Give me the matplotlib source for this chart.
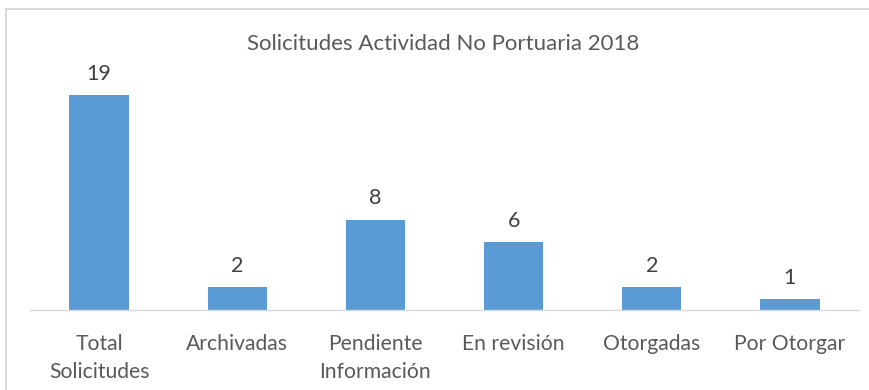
import matplotlib
matplotlib.use("Agg")
import matplotlib.pyplot as plt
from matplotlib.lines import Line2D

categories = ["Total\nSolicitudes", "Archivadas", "Pendiente\nInformación",
              "En revisión", "Otorgadas", "Por Otorgar"]
values = [19, 2, 8, 6, 2, 1]
title = "Solicitudes Actividad No Portuaria 2018"

bar_color = "#5B9BD5"
text_color = "#595959"
plt.rcParams["font.family"] = ["Lato", "DejaVu Sans"]

fig = plt.figure(figsize=(8.7, 3.9), dpi=100)
ax = fig.add_axes([30 / 870, 80 / 390, 829 / 870, 226 / 390])

x = list(range(len(categories)))
bars = ax.bar(x, values, width=0.43, color=bar_color, zorder=2)
ax.set_xlim(-0.5, len(categories) - 0.5)
ax.set_ylim(0, 20)

for rect, v in zip(bars, values):
    ax.annotate(str(v), (rect.get_x() + rect.get_width() / 2, v),
                xytext=(0, 8), textcoords="offset points",
                ha="center", va="bottom", fontsize=15.5, color="#404040")

ax.set_xticks(x)
ax.set_xticklabels(categories, fontsize=15.2, color=text_color, linespacing=1.5)
ax.tick_params(axis="x", length=0, pad=17)
ax.set_yticks([])
for side in ("top", "right", "left"):
    ax.spines[side].set_visible(False)
ax.spines["bottom"].set_color("#D9D9D9")
ax.spines["bottom"].set_linewidth(1)

fig.text(443 / 870, 1 - 44 / 390, title, ha="center", va="center",
         fontsize=16, color=text_color)

# chart frame (top and left edges)
fig.add_artist(Line2D([6.5 / 870, 1], [1 - 8.5 / 390, 1 - 8.5 / 390],
                      transform=fig.transFigure, color="#D9D9D9", lw=1.5))
fig.add_artist(Line2D([6.5 / 870, 6.5 / 870], [0, 1 - 8.5 / 390],
                      transform=fig.transFigure, color="#D9D9D9", lw=1.5))

fig.savefig("out.png", dpi=100, facecolor="white")
